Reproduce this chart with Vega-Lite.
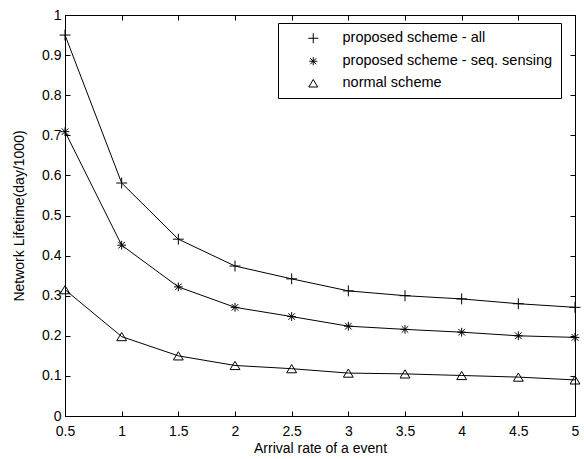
{
  "$schema": "https://vega.github.io/schema/vega-lite/v6.json",
  "width": 510,
  "height": 401,
  "autosize": "none",
  "padding": {"left": 65, "top": 15, "right": 9, "bottom": 43},
  "background": "white",
  "config": {
    "font": "Liberation Sans",
    "view": {"stroke": "black", "strokeWidth": 1},
    "axis": {
      "grid": false,
      "labelFont": "Liberation Sans",
      "labelFontSize": 14,
      "labelColor": "#000",
      "titleFont": "Liberation Sans",
      "titleFontSize": 14,
      "titleFontWeight": "normal",
      "titleColor": "#000",
      "domainColor": "#000",
      "tickColor": "#000",
      "tickSize": -5,
      "labelFlush": false,
      "labelOverlap": false
    },
    "legend": {
      "labelFont": "Liberation Sans",
      "labelFontSize": 14.5,
      "labelColor": "#000",
      "labelLimit": 400
    }
  },
  "data": {
    "values": [
      {"x": 0.5, "v": 0.950, "s": "proposed scheme - all"},
      {"x": 1.0, "v": 0.581, "s": "proposed scheme - all"},
      {"x": 1.5, "v": 0.441, "s": "proposed scheme - all"},
      {"x": 2.0, "v": 0.374, "s": "proposed scheme - all"},
      {"x": 2.5, "v": 0.342, "s": "proposed scheme - all"},
      {"x": 3.0, "v": 0.312, "s": "proposed scheme - all"},
      {"x": 3.5, "v": 0.300, "s": "proposed scheme - all"},
      {"x": 4.0, "v": 0.292, "s": "proposed scheme - all"},
      {"x": 4.5, "v": 0.280, "s": "proposed scheme - all"},
      {"x": 5.0, "v": 0.271, "s": "proposed scheme - all"},
      {"x": 0.5, "v": 0.709, "s": "proposed scheme - seq. sensing"},
      {"x": 1.0, "v": 0.426, "s": "proposed scheme - seq. sensing"},
      {"x": 1.5, "v": 0.322, "s": "proposed scheme - seq. sensing"},
      {"x": 2.0, "v": 0.271, "s": "proposed scheme - seq. sensing"},
      {"x": 2.5, "v": 0.248, "s": "proposed scheme - seq. sensing"},
      {"x": 3.0, "v": 0.224, "s": "proposed scheme - seq. sensing"},
      {"x": 3.5, "v": 0.216, "s": "proposed scheme - seq. sensing"},
      {"x": 4.0, "v": 0.209, "s": "proposed scheme - seq. sensing"},
      {"x": 4.5, "v": 0.200, "s": "proposed scheme - seq. sensing"},
      {"x": 5.0, "v": 0.196, "s": "proposed scheme - seq. sensing"},
      {"x": 0.5, "v": 0.315, "s": "normal scheme"},
      {"x": 1.0, "v": 0.198, "s": "normal scheme"},
      {"x": 1.5, "v": 0.150, "s": "normal scheme"},
      {"x": 2.0, "v": 0.126, "s": "normal scheme"},
      {"x": 2.5, "v": 0.118, "s": "normal scheme"},
      {"x": 3.0, "v": 0.107, "s": "normal scheme"},
      {"x": 3.5, "v": 0.105, "s": "normal scheme"},
      {"x": 4.0, "v": 0.101, "s": "normal scheme"},
      {"x": 4.5, "v": 0.097, "s": "normal scheme"},
      {"x": 5.0, "v": 0.090, "s": "normal scheme"}
    ]
  },
  "layer": [
    {
      "mark": {"type": "line", "color": "#000", "strokeWidth": 1, "clip": false},
      "encoding": {
        "x": {
          "field": "x", "type": "quantitative",
          "scale": {"domain": [0.5, 5], "nice": false, "zero": false},
          "axis": {
            "orient": "bottom",
            "title": "Arrival rate of a event",
            "values": [0.5, 1, 1.5, 2, 2.5, 3, 3.5, 4, 4.5, 5],
            "format": "~g",
            "labelPadding": 13,
            "titlePadding": 3
          }
        },
        "y": {
          "field": "v", "type": "quantitative",
          "scale": {"domain": [0, 1], "nice": false},
          "axis": {
            "orient": "left",
            "title": "Network Lifetime(day/1000)",
            "values": [0, 0.1, 0.2, 0.3, 0.4, 0.5, 0.6, 0.7, 0.8, 0.9, 1],
            "format": "~g",
            "labelPadding": 9,
            "titlePadding": 15
          }
        },
        "detail": {"field": "s"}
      }
    },
    {
      "mark": {"type": "point", "filled": false, "stroke": "#000", "strokeWidth": 1, "size": 120, "opacity": 1, "clip": false},
      "encoding": {
        "x": {
          "field": "x", "type": "quantitative",
          "axis": {
            "orient": "top", "title": null, "labels": false,
            "values": [0.5, 1, 1.5, 2, 2.5, 3, 3.5, 4, 4.5, 5]
          }
        },
        "y": {
          "field": "v", "type": "quantitative",
          "axis": {
            "orient": "right", "title": null, "labels": false,
            "values": [0, 0.1, 0.2, 0.3, 0.4, 0.5, 0.6, 0.7, 0.8, 0.9, 1]
          }
        },
        "shape": {
          "field": "s", "type": "nominal",
          "scale": {
            "domain": ["proposed scheme - all", "proposed scheme - seq. sensing", "normal scheme"],
            "range": [
              "M-1,0L1,0M0,-1L0,1",
              "M-0.8,0L0.8,0M0,-0.8L0,0.8M-0.6,-0.6L0.6,0.6M-0.6,0.6L0.6,-0.6",
              "M0,-0.75L0.9,0.75L-0.9,0.75Z"
            ]
          },
          "legend": {
            "title": null,
            "orient": "none",
            "legendX": 213,
            "legendY": 8,
            "strokeColor": "#000",
            "fillColor": "#fff",
            "padding": 8,
            "rowPadding": 7,
            "symbolOffset": 20,
            "labelOffset": 22,
            "symbolStrokeColor": "#000",
            "symbolStrokeWidth": 1,
            "symbolFillColor": "transparent"
          }
        }
      }
    }
  ],
  "resolve": {"axis": {"x": "independent", "y": "independent"}}
}
